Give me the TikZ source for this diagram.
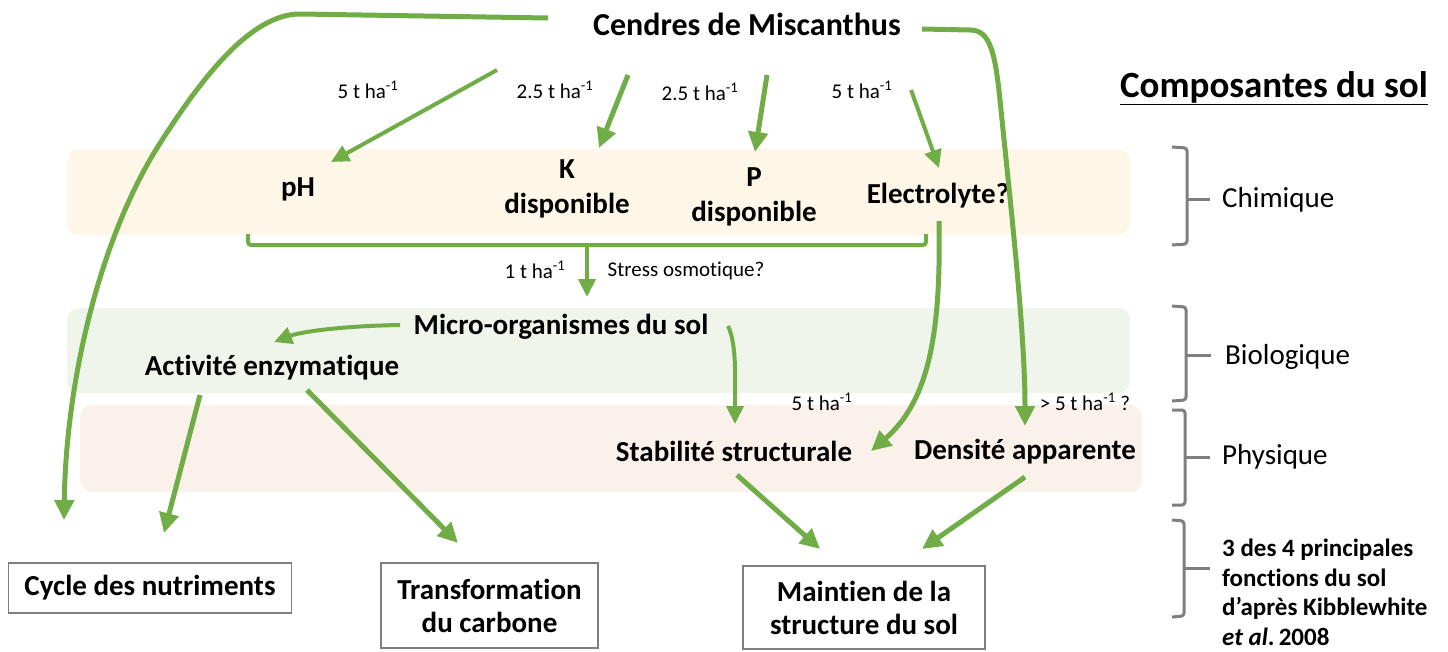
\documentclass[tikz,border=0pt]{standalone}
\usepackage{fontspec}
\setmainfont{Carlito}[Ligatures=NoCommon]
\usetikzlibrary{arrows.meta}
\definecolor{agreen}{HTML}{70AD47}
\definecolor{chimbg}{HTML}{FEF7E7}
\definecolor{biobg}{HTML}{EFF5EB}
\definecolor{physbg}{HTML}{FBF1EB}
\definecolor{bracegray}{HTML}{7F7F7F}
\begin{document}
\begin{tikzpicture}[x=1pt,y=-1pt,
  arr/.style={draw=agreen,line width=5pt,-{Triangle[length=20pt,width=19pt]}},
  tarr/.style={draw=agreen,line width=4pt,-{Triangle[length=18pt,width=17pt]}},
  lbl/.style={font=\fontsize{29}{35}\selectfont\bfseries,align=center,inner sep=0pt},
  small/.style={font=\fontsize{21}{24}\selectfont,inner sep=0pt},
  side/.style={font=\fontsize{29}{32}\selectfont,anchor=west,inner sep=0pt},
  fbox/.style={draw=bracegray,line width=1.3pt,fill=white,font=\fontsize{29}{33}\selectfont\bfseries,align=center,inner sep=0pt},
  brace/.style={draw=bracegray,line width=3pt,rounded corners=3pt}
]
\useasboundingbox (0,0) rectangle (1448,651);
% bands
\fill[chimbg,rounded corners=12pt] (67,149) rectangle (1130,235);
\fill[biobg,rounded corners=12pt] (67,308) rectangle (1130,393);
\fill[physbg,rounded corners=12pt] (80,405) rectangle (1142,492);

% main nodes
\node[lbl,font=\fontsize{32}{36}\selectfont\bfseries] (cendres) at (747,24) {Cendres de Miscanthus};
\node[lbl] (ph) at (298,189) {pH};
\node[lbl] (k) at (567,189) {K\\disponible};
\node[lbl] (p) at (754,197) {P\\disponible};
\node[lbl] (elec) at (938,196) {Electrolyte?};
\node[lbl] (micro) at (561,327) {Micro-organismes du sol};
\node[lbl] (enz) at (272,368) {Activité enzymatique};
\node[lbl] (stab) at (734,451) {Stabilité structurale};
\node[lbl] (dens) at (1025,452) {Densité apparente};

% function boxes
\node[fbox,minimum width=283pt,minimum height=50pt] (cycle) at (150,588) {Cycle des nutriments};
\node[fbox,minimum width=217pt,minimum height=85pt] (trans) at (489.5,605.5) {Transformation\\du carbone};
\node[fbox,minimum width=242pt,minimum height=83pt] (maint) at (864,607.5) {Maintien de la\\structure du sol};

% small labels
\node[small] (l1) at (368,90) {5 t ha\textsuperscript{-1}};
\node[small] (l2) at (555,90) {2.5 t ha\textsuperscript{-1}};
\node[small] (l3) at (700,92) {2.5 t ha\textsuperscript{-1}};
\node[small] (l4) at (862,90) {5 t ha\textsuperscript{-1}};
\node[small] (l5) at (535,270) {1 t ha\textsuperscript{-1}};
\node[small] (l6) at (686,271) {Stress osmotique?};
\node[small] (l7) at (822,402) {5 t ha\textsuperscript{-1}};
\node[small] (l8) at (1085,402) {> 5 t ha\textsuperscript{-1} ?};

% right column
\node[font=\fontsize{37}{40}\selectfont\bfseries,inner sep=0pt] (title) at (1274,88) {\underline{Composantes du sol}};
\node[side] (chim) at (1222,200) {Chimique};
\node[side] (bio) at (1225,357) {Biologique};
\node[side] (phys) at (1222,457) {Physique};
\node[anchor=north west,align=left,font=\fontsize{25}{29.5}\selectfont\bfseries,inner sep=0pt] (fonc) at (1222,539)
  {3 des 4 principales\\fonctions du sol\\d’après Kibblewhite\\\textit{et al}.\,2008};

% braces
\draw[brace] (1172,147) -- (1187,148) -- (1187,244) -- (1172,245);
\draw[bracegray,line width=3pt] (1187,199) -- (1210,199);
\draw[brace] (1172,306) -- (1186,307) -- (1186,400) -- (1172,401);
\draw[bracegray,line width=3pt] (1186,355) -- (1211,355);
\draw[brace] (1172,410) -- (1185,410) -- (1185,505) -- (1172,505);
\draw[bracegray,line width=3pt] (1185,457) -- (1210,457);
\draw[brace] (1172,520) -- (1184,521) -- (1184,616) -- (1172,617);
\draw[bracegray,line width=3pt] (1184,568) -- (1210,568);

% coordinates for connector ends
\coordinate (c1s) at (497,70);  \coordinate (c1e) at (331,162);
\coordinate (c2s) at (628,75);  \coordinate (c2e) at (599,148);
\coordinate (c3s) at (767,75);  \coordinate (c3e) at (755,152);
\coordinate (c4s) at (911,90);  \coordinate (c4e) at (939,168);
\coordinate (bl) at (248,234);  \coordinate (br) at (926,234);
\coordinate (bm) at (587,245);  \coordinate (bme) at (587,297);
\coordinate (e1s) at (939,221); \coordinate (e1e) at (871,451);
\coordinate (r1s) at (922,29);  \coordinate (r1e) at (1025,426);
\coordinate (lfs) at (548,18);  \coordinate (lfe) at (64,520);
\coordinate (m1s) at (400,325); \coordinate (m1e) at (274,342);
\coordinate (m2s) at (728,326); \coordinate (m2e) at (735,424);
\coordinate (a1s) at (200,395); \coordinate (a1e) at (164,533);
\coordinate (a2s) at (307,390); \coordinate (a2e) at (458,543);
\coordinate (s1s) at (737,475); \coordinate (s1e) at (820,549);
\coordinate (d1s) at (1025,477); \coordinate (d1e) at (922,549);

% connectors
\draw[tarr] (c1s) -- (c1e);
\draw[arr] (c2s) -- (c2e);
\draw[arr] (c3s) -- (c3e);
\draw[tarr] (c4s) -- (c4e);
\draw[draw=agreen,line width=4pt,rounded corners=3pt] (bl) -- (248,245) -- (926,245) -- (br);
\draw[tarr] (bm) -- (bme);
\draw[arr] (e1s) .. controls (941,330) and (930,400) .. (e1e);
\draw[arr] (r1s) -- (970,30) .. controls (990,30) and (995,52) .. (1000,100) .. controls (1010,200) and (1025,330) .. (r1e);
\draw[arr] (lfs) -- (300,14) .. controls (250,14) and (200,80) .. (157,148) .. controls (100,240) and (66,380) .. (lfe);
\draw[tarr] (m1s) .. controls (340,326) and (300,332) .. (m1e);
\draw[tarr] (m2s) .. controls (737,345) and (735,380) .. (m2e);
\draw[arr] (a1s) -- (a1e);
\draw[arr] (a2s) -- (a2e);
\draw[arr] (s1s) -- (s1e);
\draw[arr] (d1s) -- (d1e);
\end{tikzpicture}
\end{document}
